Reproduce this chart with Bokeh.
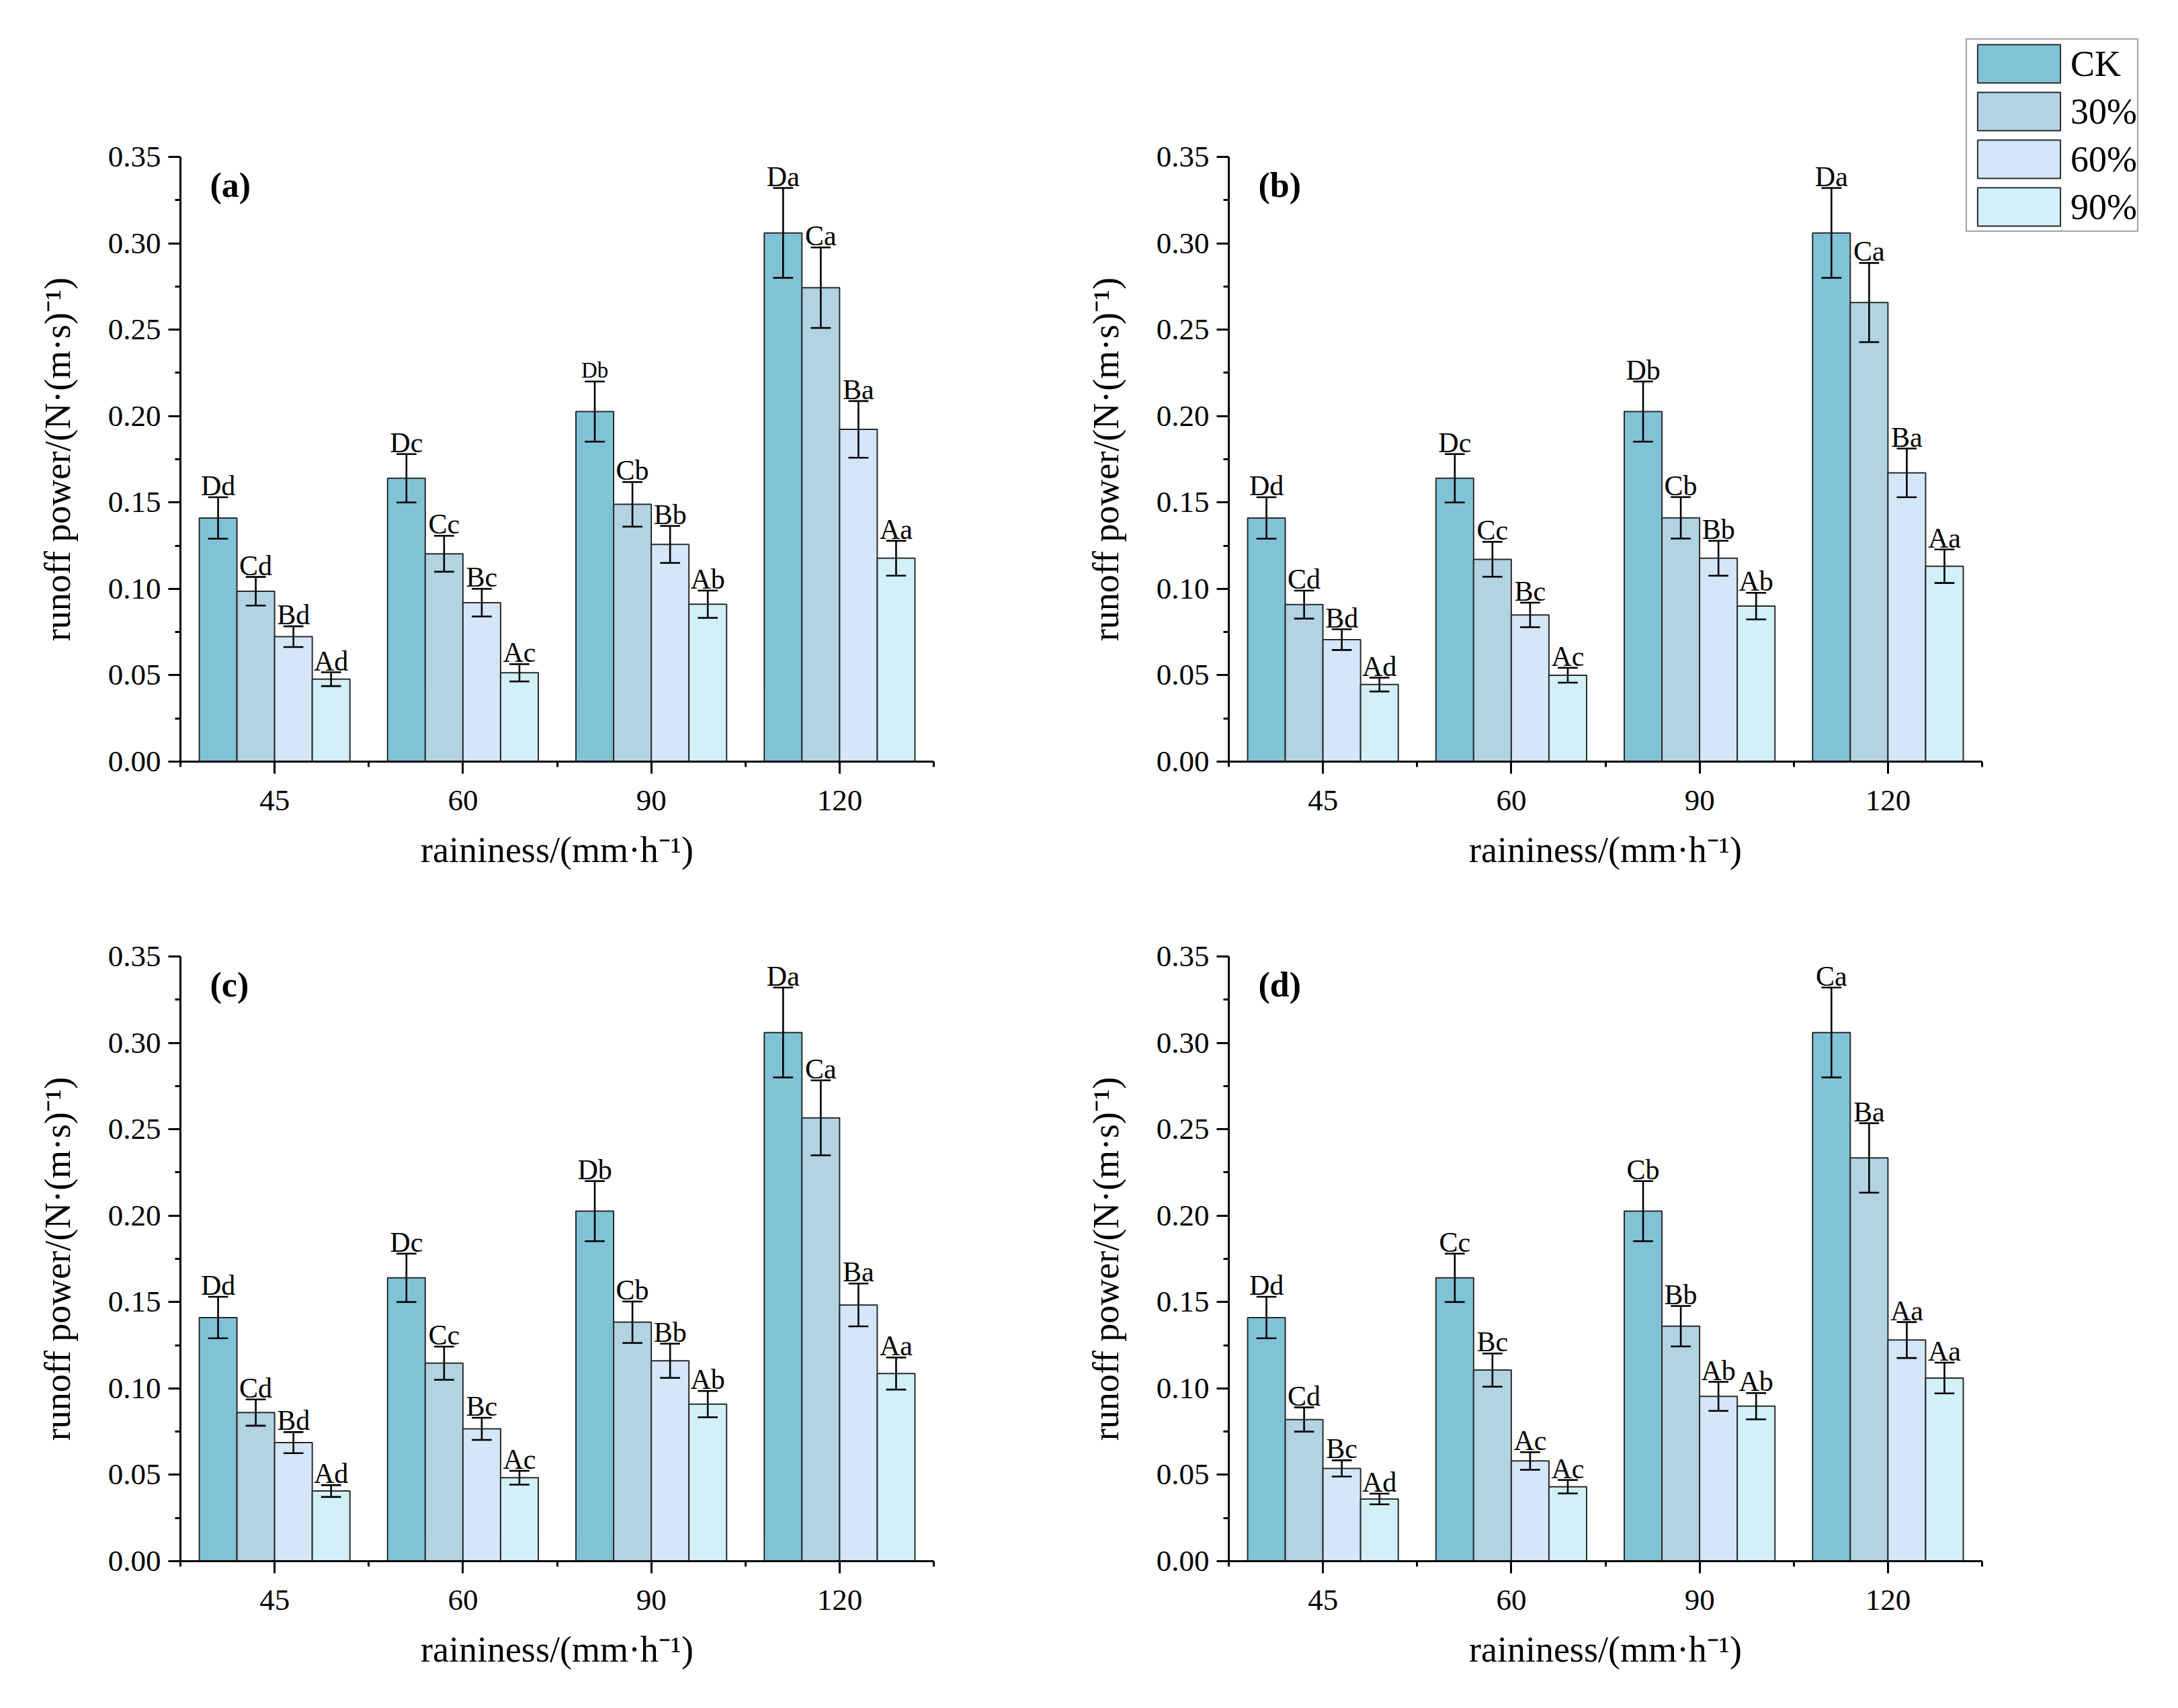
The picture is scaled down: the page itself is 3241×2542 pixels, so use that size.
from bokeh.plotting import figure
from bokeh.models import (FixedTicker, NumeralTickFormatter, Range1d, Label,
                          Legend, LegendItem)
from bokeh.layouts import column, row
from bokeh.embed import file_html
from bokeh.resources import INLINE
from bokeh.core.properties import value

# ---------------- data ----------------
rainfall = ["45", "60", "90", "120"]
series = ["CK", "30%", "60%", "90%"]

ck_mean = [0.141, 0.164, 0.2026, 0.306]
ck_err = [0.012, 0.014, 0.0174, 0.026]

a_30 = [0.0986, 0.1203, 0.1489, 0.2743]
a_30_err = [0.0083, 0.0104, 0.0129, 0.0233]
a_60 = [0.0723, 0.0920, 0.1257, 0.1923]
a_60_err = [0.0060, 0.0080, 0.0107, 0.0164]
a_90 = [0.0477, 0.0514, 0.0911, 0.1177]
a_90_err = [0.0040, 0.0050, 0.0079, 0.0101]

b_30 = [0.0909, 0.1171, 0.1411, 0.2657]
b_30_err = [0.0081, 0.0101, 0.0120, 0.0229]
b_60 = [0.0706, 0.0849, 0.1177, 0.1671]
b_60_err = [0.0060, 0.0071, 0.0101, 0.0141]
b_90 = [0.0446, 0.0500, 0.0900, 0.1131]
b_90_err = [0.0040, 0.0043, 0.0077, 0.0097]

c_30 = [0.0860, 0.1146, 0.1383, 0.2566]
c_30_err = [0.0076, 0.0096, 0.0120, 0.0217]
c_60 = [0.0686, 0.0766, 0.1160, 0.1483]
c_60_err = [0.0061, 0.0064, 0.0099, 0.0124]
c_90 = [0.0406, 0.0483, 0.0909, 0.1086]
c_90_err = [0.0034, 0.0040, 0.0076, 0.0093]

d_30 = [0.0820, 0.1106, 0.1360, 0.2334]
d_30_err = [0.0070, 0.0096, 0.0117, 0.0201]
d_60 = [0.0537, 0.0580, 0.0954, 0.1280]
d_60_err = [0.0047, 0.0051, 0.0084, 0.0104]
d_90 = [0.0360, 0.0431, 0.0897, 0.1060]
d_90_err = [0.0031, 0.0039, 0.0076, 0.0089]

# significance letters: per series (CK, 30%, 60%, 90%), per rainfall
a_letters = [["Dd", "Dc", "Db", "Da"], ["Cd", "Cc", "Cb", "Ca"],
             ["Bd", "Bc", "Bb", "Ba"], ["Ad", "Ac", "Ab", "Aa"]]
b_letters = [["Dd", "Dc", "Db", "Da"], ["Cd", "Cc", "Cb", "Ca"],
             ["Bd", "Bc", "Bb", "Ba"], ["Ad", "Ac", "Ab", "Aa"]]
c_letters = [["Dd", "Dc", "Db", "Da"], ["Cd", "Cc", "Cb", "Ca"],
             ["Bd", "Bc", "Bb", "Ba"], ["Ad", "Ac", "Ab", "Aa"]]
d_letters = [["Dd", "Cc", "Cb", "Ca"], ["Cd", "Bc", "Bb", "Ba"],
             ["Bc", "Ac", "Ab", "Aa"], ["Ad", "Ac", "Ab", "Aa"]]

y_ticks = [0.0, 0.05, 0.10, 0.15, 0.20, 0.25, 0.30, 0.35]
y_minor = [0.025, 0.075, 0.125, 0.175, 0.225, 0.275, 0.325]

# ---------------- style ----------------
FONT = "Liberation Serif"
colors = ["#80C3D6", "#B2D3E1", "#D4E6F7", "#D1F0F8"]
OUTLINE = "#2a2a2a"
offsets = [-0.3, -0.1, 0.1, 0.3]
BAR_W = 0.2
CAP = 0.053
small_labels = {("a", 0, 2)}   # (panel, series index, rainfall index) drawn smaller

FRAME_W, FRAME_H = 1121, 900


def make_panel(tag, means, errs, letters, bl, br, bt, bb):
    p = figure(frame_width=FRAME_W, frame_height=FRAME_H,
               x_range=Range1d(0.5, 4.5), y_range=Range1d(0, 0.35),
               output_backend="svg", toolbar_location=None,
               min_border_left=bl, min_border_right=br,
               min_border_top=bt, min_border_bottom=bb)
    p.outline_line_color = None
    p.xgrid.visible = False
    p.ygrid.visible = False
    p.background_fill_color = "white"
    p.border_fill_color = "white"

    renderers = []
    for j in range(4):
        xs = [i + 1 + offsets[j] for i in range(len(rainfall))]
        r = p.vbar(x=xs, top=means[j], width=BAR_W, bottom=0,
                   fill_color=colors[j], line_color=OUTLINE, line_width=2)
        renderers.append(r)
    for j in range(4):
        xs = [i + 1 + offsets[j] for i in range(len(rainfall))]
        up = [m + e for m, e in zip(means[j], errs[j])]
        lo = [m - e for m, e in zip(means[j], errs[j])]
        p.segment(x0=xs, x1=xs, y0=lo, y1=up, line_color="black", line_width=2.6)
        p.segment(x0=[x - CAP for x in xs], x1=[x + CAP for x in xs], y0=up, y1=up,
                  line_color="black", line_width=2.6)
        p.segment(x0=[x - CAP for x in xs], x1=[x + CAP for x in xs], y0=lo, y1=lo,
                  line_color="black", line_width=2.6)
        for i in range(len(rainfall)):
            size = "33px" if (tag, j, i) in small_labels else "42px"
            p.text(x=[xs[i]], y=[up[i]], text=[letters[j][i]], y_offset=-17,
                   text_align="center", text_baseline="alphabetic",
                   text_font=value(FONT), text_font_size=value(size),
                   text_color="black")

    p.add_layout(Label(x=44, y=858, x_units="screen", y_units="screen",
                       text="(%s)" % tag, text_font=FONT, text_font_size="52px",
                       text_font_style="bold", text_baseline="alphabetic",
                       text_color="black"))

    # axes
    p.xaxis.ticker = FixedTicker(ticks=[1, 2, 3, 4], minor_ticks=[0.5, 1.5, 2.5, 3.5, 4.5])
    p.xaxis.major_label_overrides = {i + 1: lab for i, lab in enumerate(rainfall)}
    p.yaxis.ticker = FixedTicker(ticks=y_ticks, minor_ticks=y_minor)
    p.yaxis.formatter = NumeralTickFormatter(format="0.00")
    p.xaxis.axis_label = "raininess/(mm\u00b7h\u207b\u00b9)"
    p.yaxis.axis_label = "runoff power/(N\u00b7(m\u00b7s)\u207b\u00b9)"
    for ax in (p.xaxis[0], p.yaxis[0]):
        ax.axis_line_width = 3
        ax.axis_line_color = "black"
        ax.major_tick_line_width = 3
        ax.minor_tick_line_width = 3
        ax.major_tick_line_color = "black"
        ax.minor_tick_line_color = "black"
        ax.major_tick_out = 18
        ax.major_tick_in = 0
        ax.minor_tick_out = 8
        ax.minor_tick_in = 0
        ax.major_label_text_font = FONT
        ax.major_label_text_font_size = "45px"
        ax.major_label_text_color = "black"
        ax.axis_label_text_font = FONT
        ax.axis_label_text_font_size = "54px"
        ax.axis_label_text_font_style = "normal"
        ax.axis_label_text_color = "black"
    p.xaxis.major_label_standoff = 25
    p.yaxis.major_label_standoff = 11
    p.xaxis.axis_label_standoff = 26
    p.yaxis.axis_label_standoff = 42
    return p, renderers


pa, _ = make_panel("a", [ck_mean, a_30, a_60, a_90], [ck_err, a_30_err, a_60_err, a_90_err],
                   a_letters, 268, 163, 233, 199)
pb, rb = make_panel("b", [ck_mean, b_30, b_60, b_90], [ck_err, b_30_err, b_60_err, b_90_err],
                    b_letters, 276, 276, 233, 199)
pc, _ = make_panel("c", [ck_mean, c_30, c_60, c_90], [ck_err, c_30_err, c_60_err, c_90_err],
                   c_letters, 268, 163, 91, 203)
pd, _ = make_panel("d", [ck_mean, d_30, d_60, d_90], [ck_err, d_30_err, d_60_err, d_90_err],
                   d_letters, 276, 276, 91, 203)

legend = Legend(items=[LegendItem(label=s, renderers=[r]) for s, r in zip(series, rb)],
                location=(-24, 788), glyph_width=154, glyph_height=71,
                spacing=0, padding=0, margin=0, label_standoff=0,
                label_text_font=FONT, label_text_font_size="54px",
                label_text_color="black",
                border_line_color="#444444", border_line_width=2,
                background_fill_color="white", background_fill_alpha=1.0)
pb.add_layout(legend, "right")

layout = column(row(pa, pb), row(pc, pd))

with open("out.html", "w") as f:
    f.write(file_html(layout, INLINE))
